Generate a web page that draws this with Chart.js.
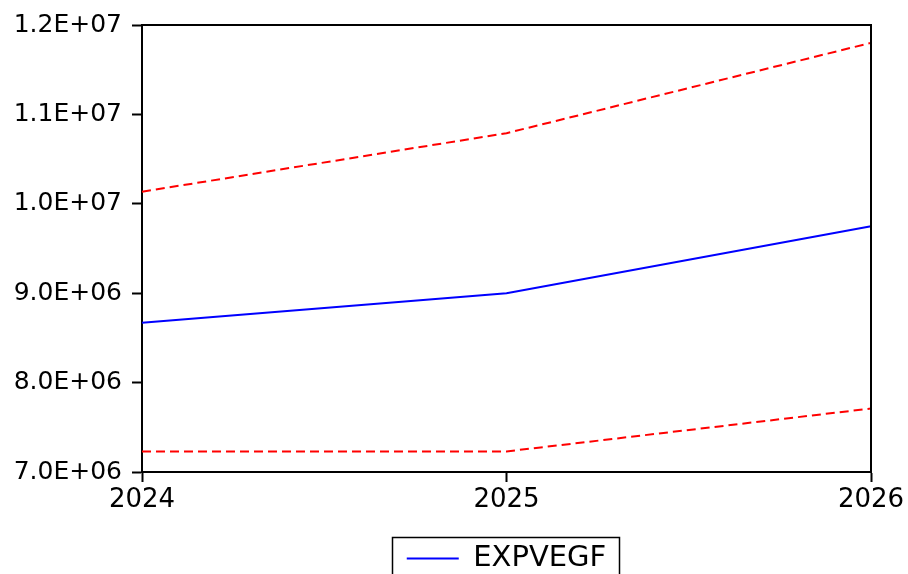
<!DOCTYPE html>
<html>
<head>
<meta charset="utf-8">
<script src="https://cdn.jsdelivr.net/npm/chart.js@4.4.1/dist/chart.umd.min.js"></script>
<style>
  html, body { margin: 0; padding: 0; background: #fff; }
  #wrap { width: 908px; height: 574px; }
</style>
</head>
<body>
<div id="wrap"><canvas id="myChart" width="908" height="574"></canvas></div>
<script>
// years on the x axis
const years = ['2024', '2025', '2026'];
// forecast and the two bands around it
const expvegf = [8670000, 9000000, 9750000];
const upperBand = [10135000, 10790000, 11800000];
const lowerBand = [7230000, 7230000, 7710000];

const FONT = "'DejaVu Sans', Arial, sans-serif";

// 1.2E+07 style labels
function sciLabel(v) {
    const parts = Number(v).toExponential(1).split('e');
    const exp = parts[1];
    return parts[0] + 'E' + exp[0] + exp.slice(1).padStart(2, '0');
}

// frame round the plot, and legend placed/boxed under the plot area
const framePlugin = {
    id: 'frame',
    afterLayout(chart) {
        const lg = chart.legend;
        if (!lg) return;
        const h = lg.bottom - lg.top;
        lg.left = chart.chartArea.left;
        lg.right = chart.chartArea.right;
        lg.top = 534;
        lg.bottom = lg.top + h;
    },
    afterDraw(chart) {
        const ctx = chart.ctx;
        const a = chart.chartArea;
        ctx.save();
        ctx.strokeStyle = '#000';
        ctx.lineWidth = 2;
        ctx.beginPath();
        ctx.moveTo(a.left, a.top);
        ctx.lineTo(a.right, a.top);
        ctx.lineTo(a.right, a.bottom);
        ctx.stroke();

        // box round the legend item
        const lg = chart.legend;
        const opts = lg.options.labels;
        ctx.font = opts.font.size + 'px ' + FONT;
        const textW = ctx.measureText(lg.legendItems[0].text).width;
        const itemW = opts.boxWidth + opts.font.size / 2 + textW;
        const startX = (lg.left + lg.right - itemW) / 2;
        ctx.lineWidth = 1.5;
        ctx.strokeRect(Math.round(startX - 15) + 0.5, 537.5, Math.round(itemW + 28), 60);
        ctx.restore();
    }
};

const ctx = document.getElementById('myChart').getContext('2d');
const lineChart = new Chart(ctx, {
    type: 'line',
    data: {
        labels: years,
        datasets: [
            {
                label: 'EXPVEGF',
                data: expvegf,
                borderColor: '#0000ff',
                backgroundColor: '#0000ff',
                borderWidth: 2,
                pointRadius: 0,
                tension: 0,
                fill: false,
            },
            {
                label: 'upper',
                data: upperBand,
                borderColor: '#ff0000',
                borderWidth: 2,
                borderDash: [9, 5],
                pointRadius: 0,
                tension: 0,
                fill: false,
            },
            {
                label: 'lower',
                data: lowerBand,
                borderColor: '#ff0000',
                borderWidth: 2,
                borderDash: [9, 5],
                pointRadius: 0,
                tension: 0,
                fill: false,
            },
        ],
    },
    options: {
        responsive: false,
        animation: false,
        layout: { padding: { top: 25, right: 37, left: 0, bottom: 0 } },
        plugins: {
            tooltip: { enabled: false },
            legend: {
                position: 'bottom',
                labels: {
                    filter: (item) => item.datasetIndex === 0,
                    boxWidth: 52,
                    boxHeight: 2,
                    padding: 10,
                    color: '#000',
                    font: { family: FONT, size: 29 },
                    generateLabels: (chart) => [{
                        text: 'EXPVEGF',
                        fillStyle: '#0000ff',
                        strokeStyle: '#0000ff',
                        lineWidth: 0,
                        datasetIndex: 0,
                        hidden: false,
                    }],
                },
            },
        },
        scales: {
            x: {
                offset: false,
                afterFit: (scale) => { scale.height = 53; },
                border: { color: '#000', width: 2 },
                grid: {
                    drawOnChartArea: false,
                    drawTicks: true,
                    tickLength: 10,
                    tickWidth: 2,
                    tickColor: '#000',
                },
                ticks: {
                    color: '#000',
                    padding: 3,
                    maxRotation: 0,
                    font: { family: FONT, size: 26 },
                },
            },
            y: {
                min: 7000000,
                max: 12000000,
                afterFit: (scale) => { scale.width = 142; },
                border: { color: '#000', width: 2 },
                grid: {
                    drawOnChartArea: false,
                    drawTicks: true,
                    tickLength: 10,
                    tickWidth: 2,
                    tickColor: '#000',
                },
                ticks: {
                    stepSize: 1000000,
                    color: '#000',
                    padding: 10,
                    font: { family: FONT, size: 25 },
                    callback: (v) => sciLabel(v),
                },
            },
        },
    },
    plugins: [framePlugin],
});
</script>
</body>
</html>
